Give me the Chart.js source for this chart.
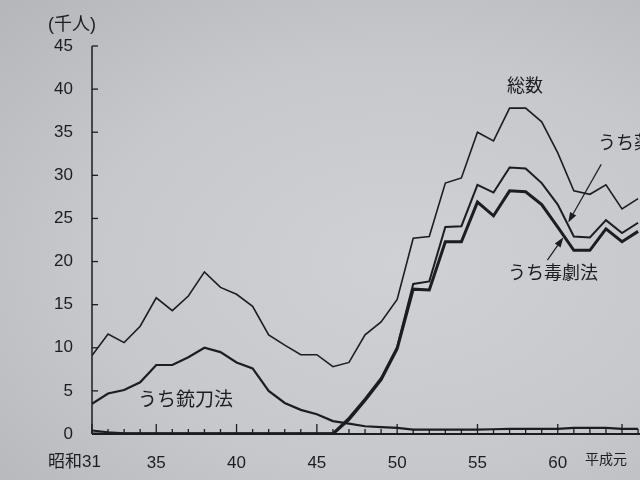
<!DOCTYPE html>
<html lang="ja">
<head>
<meta charset="utf-8">
<title>少年の特別法犯 送致人員の推移</title>
<script src="https://cdn.jsdelivr.net/npm/chart.js@4.4.1/dist/chart.umd.min.js"></script>
<style>
  html, body { margin: 0; padding: 0; }
  body {
    width: 640px;
    height: 480px;
    overflow: hidden;
    background: radial-gradient(ellipse at 62% 55%, #d0d1d5 0%, #c7c8cc 55%, #b5b6ba 100%);
  }
  canvas { display: block; }
</style>
</head>
<body>
<canvas id="chart" width="640" height="480"></canvas>
<script>
// 昭和31年 ～ 昭和65年(平成2年)
const years = [31, 32, 33, 34, 35, 36, 37, 38, 39, 40, 41, 42, 43, 44, 45, 46, 47, 48,
    49, 50, 51, 52, 53, 54, 55, 56, 57, 58, 59, 60, 61, 62, 63, 64, 65];

// 千人
const total = [9.1, 11.6, 10.6, 12.5, 15.8, 14.3, 16.0, 18.8, 17.0, 16.2, 14.8, 11.5,
    10.3, 9.2, 9.2, 7.8, 8.3, 11.5, 13.0, 15.6, 22.7, 22.9, 29.1, 29.7, 35.0, 34.0,
    37.8, 37.8, 36.2, 32.6, 28.2, 27.8, 28.9, 26.1, 27.3];
const drugs = [0.4, 0.2, 0.1, 0.1, 0.1, 0.1, 0.1, 0.1, 0.1, 0.1, 0.1, 0.1, 0.1, 0.1,
    0.1, 0.1, 1.9, 4.1, 6.5, 10.1, 17.4, 17.7, 24.0, 24.1, 28.9, 28.0, 30.9, 30.8,
    29.1, 26.6, 22.9, 22.8, 24.8, 23.3, 24.5];
const poisons = [0, 0, 0, 0, 0, 0, 0, 0, 0, 0, 0, 0, 0, 0, 0, 0, 1.7, 3.9, 6.3, 9.9,
    16.8, 16.7, 22.3, 22.3, 26.9, 25.3, 28.2, 28.1, 26.6, 24.0, 21.3, 21.3, 23.8,
    22.3, 23.5];
const swords = [3.5, 4.7, 5.1, 6.0, 8.0, 8.0, 8.9, 10.0, 9.5, 8.3, 7.6, 5.0, 3.6, 2.8,
    2.3, 1.5, 1.2, 0.9, 0.8, 0.7, 0.5, 0.5, 0.5, 0.5, 0.5, 0.55, 0.6, 0.6, 0.6, 0.6,
    0.7, 0.7, 0.7, 0.6, 0.6];

const yTicks = [0, 5, 10, 15, 20, 25, 30, 35, 40, 45];
const xLabelYears = [31, 35, 40, 45, 50, 55, 60, 64];
const xLabels = ['昭和31', '35', '40', '45', '50', '55', '60', '平成元'];

const FONT = '"Liberation Sans", "Noto Sans CJK JP", sans-serif';
const INK = '#1c1c21';

function toPoints(values) {
    return years.map((yr, i) => ({ x: yr, y: values[i] }));
}

function valueAt(values, yr) {
    const i = Math.floor(yr) - years[0];
    const t = yr - Math.floor(yr);
    return values[i] + (values[i + 1] - values[i]) * t;
}

function drawArrow(ctx, fromX, fromY, toX, toY) {
    const ang = Math.atan2(toY - fromY, toX - fromX);
    const len = 10;
    const half = 3.5;
    const bx = toX - Math.cos(ang) * len;
    const by = toY - Math.sin(ang) * len;
    ctx.beginPath();
    ctx.moveTo(fromX, fromY);
    ctx.lineTo(bx, by);
    ctx.stroke();
    ctx.beginPath();
    ctx.moveTo(toX, toY);
    ctx.lineTo(bx - Math.sin(ang) * half, by + Math.cos(ang) * half);
    ctx.lineTo(bx + Math.sin(ang) * half, by - Math.cos(ang) * half);
    ctx.closePath();
    ctx.fill();
}

const decorPlugin = {
    id: 'decor',
    afterDatasetsDraw(chart) {
        const { ctx, chartArea } = chart;
        const x = chart.scales.x;
        const y = chart.scales.y;
        const left = chartArea.left;
        const bottom = chartArea.bottom;

        ctx.save();
        ctx.strokeStyle = INK;
        ctx.fillStyle = INK;

        // axes
        ctx.lineWidth = 1.5;
        ctx.beginPath();
        ctx.moveTo(left, y.getPixelForValue(45));
        ctx.lineTo(left, bottom);
        ctx.stroke();
        ctx.lineWidth = 2;
        ctx.beginPath();
        ctx.moveTo(left, bottom);
        ctx.lineTo(chartArea.right, bottom);
        ctx.stroke();

        // tick marks point inward
        ctx.lineWidth = 1.3;
        yTicks.forEach((v) => {
            const py = y.getPixelForValue(v);
            ctx.beginPath();
            ctx.moveTo(left, py);
            ctx.lineTo(left + 6, py);
            ctx.stroke();
        });
        years.forEach((yr) => {
            const px = x.getPixelForValue(yr);
            const len = xLabelYears.includes(yr) ? 10 : 5;
            ctx.beginPath();
            ctx.moveTo(px, bottom);
            ctx.lineTo(px, bottom - len);
            ctx.stroke();
        });

        // x labels
        ctx.textBaseline = 'middle';
        xLabelYears.forEach((yr, i) => {
            const px = x.getPixelForValue(yr);
            if (i === 0) {
                ctx.font = '17px ' + FONT;
                ctx.textAlign = 'right';
                ctx.fillText(xLabels[i], px + 9, 462);
            } else if (yr === 64) {
                ctx.font = '14px ' + FONT;
                ctx.textAlign = 'center';
                ctx.fillText(xLabels[i], px - 16, 460);
            } else {
                ctx.font = '17px ' + FONT;
                ctx.textAlign = 'center';
                ctx.fillText(xLabels[i], px, 463);
            }
        });

        // unit and series names
        ctx.font = '18px ' + FONT;
        ctx.textAlign = 'center';
        ctx.fillText('(千人)', 72, 25);
        ctx.fillText('総数', 525, 87);
        ctx.textAlign = 'left';
        ctx.fillText('うち薬物', 598, 144);
        ctx.fillText('うち毒劇法', 508, 274);
        ctx.font = '19px ' + FONT;
        ctx.fillText('うち銃刀法', 138, 401);

        // arrows to the drug lines
        ctx.lineWidth = 1.2;
        let tx = x.getPixelForValue(60.65);
        let ty = y.getPixelForValue(valueAt(drugs, 60.65)) - 3;
        drawArrow(ctx, tx + 33, ty - 58, tx, ty);
        tx = x.getPixelForValue(60.35);
        ty = y.getPixelForValue(valueAt(poisons, 60.35)) + 2;
        drawArrow(ctx, tx - 16, ty + 23, tx, ty);

        ctx.restore();
    },
};

const ctx = document.getElementById('chart').getContext('2d');

new Chart(ctx, {
    type: 'line',
    data: {
        datasets: [
            { label: '総数', data: toPoints(total), borderWidth: 1.6 },
            { label: 'うち薬物', data: toPoints(drugs), borderWidth: 2 },
            { label: 'うち毒劇法', data: toPoints(poisons), borderWidth: 3 },
            { label: 'うち銃刀法', data: toPoints(swords), borderWidth: 2.2 },
        ].map((ds) => ({
            ...ds,
            borderColor: INK,
            backgroundColor: INK,
            pointRadius: 0,
            fill: false,
            tension: 0,
        })),
    },
    options: {
        responsive: false,
        animation: false,
        devicePixelRatio: 1,
        layout: {
            padding: { top: 46, right: 0, bottom: 0, left: 0 },
        },
        scales: {
            x: {
                type: 'linear',
                min: 31,
                max: 65.12,
                grid: { display: false },
                border: { display: false },
                ticks: { display: false },
                afterFit(scale) {
                    scale.height = 46;
                },
            },
            y: {
                min: 0,
                max: 45,
                grid: { display: false },
                border: { display: false },
                ticks: {
                    stepSize: 5,
                    padding: 11,
                    color: INK,
                    font: { family: FONT, size: 17 },
                },
                afterFit(scale) {
                    scale.width = 92;
                },
            },
        },
        plugins: {
            legend: { display: false },
            tooltip: { enabled: false },
        },
    },
    plugins: [decorPlugin],
});
</script>
</body>
</html>
